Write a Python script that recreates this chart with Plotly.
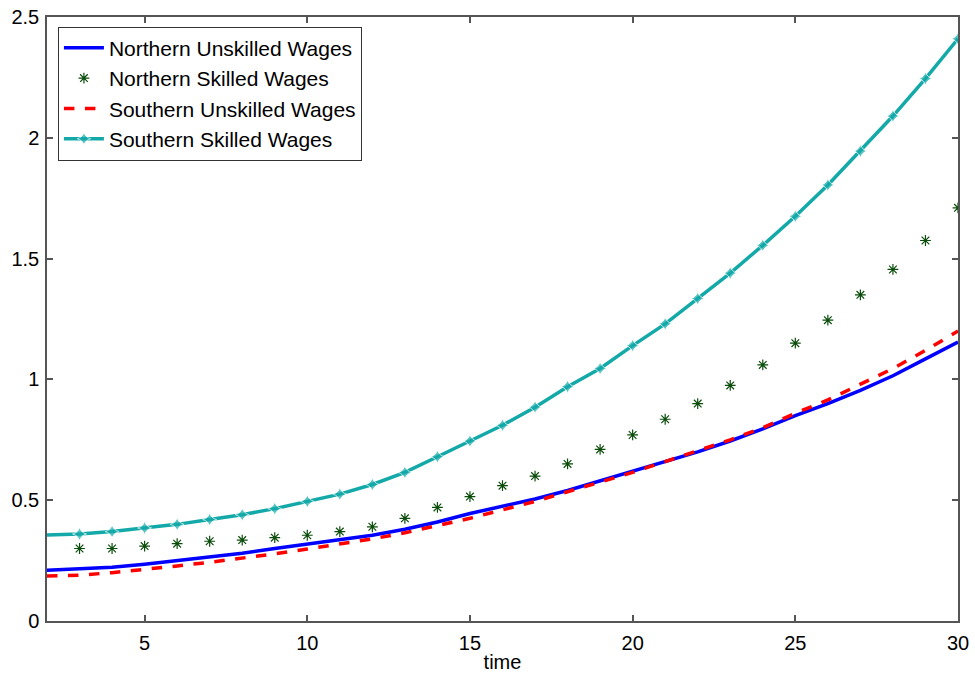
import plotly.graph_objects as go

time = list(range(2, 31))

northern_unskilled = [0.21, 0.215, 0.222, 0.235, 0.25, 0.265, 0.28, 0.30, 0.318, 0.335,
                      0.355, 0.38, 0.41, 0.445, 0.475, 0.505, 0.54, 0.58, 0.62, 0.66,
                      0.70, 0.745, 0.795, 0.85, 0.90, 0.955, 1.015, 1.085, 1.155]

northern_skilled_time = list(range(3, 31))
northern_skilled = [0.30, 0.30, 0.31, 0.32, 0.33, 0.335, 0.345, 0.355, 0.37, 0.39,
                    0.425, 0.47, 0.515, 0.56, 0.60, 0.65, 0.71, 0.77, 0.835, 0.90,
                    0.975, 1.06, 1.15, 1.245, 1.35, 1.455, 1.575, 1.71]

southern_unskilled = [0.186, 0.19, 0.20, 0.213, 0.228, 0.243, 0.26, 0.278, 0.298, 0.318,
                      0.34, 0.365, 0.395, 0.425, 0.46, 0.495, 0.535, 0.575, 0.615, 0.66,
                      0.705, 0.75, 0.80, 0.86, 0.915, 0.98, 1.045, 1.12, 1.20]

southern_skilled = [0.356, 0.36, 0.37, 0.385, 0.40, 0.42, 0.44, 0.465, 0.495, 0.525,
                    0.565, 0.615, 0.68, 0.745, 0.81, 0.885, 0.97, 1.045, 1.14, 1.23,
                    1.335, 1.44, 1.555, 1.675, 1.805, 1.945, 2.09, 2.245, 2.41]

font_family = "Liberation Sans, Arial, sans-serif"

fig = go.Figure()
fig.add_trace(go.Scatter(
    x=time, y=northern_unskilled, mode="lines", name="Northern Unskilled Wages",
    line=dict(color="#0000ff", width=3.5)))
fig.add_trace(go.Scatter(
    x=northern_skilled_time, y=northern_skilled, mode="markers", name="Northern Skilled Wages",
    marker=dict(symbol="asterisk-open", size=9, color="#0b4d0b",
                line=dict(color="#0b4d0b", width=1.2))))
fig.add_trace(go.Scatter(
    x=time, y=southern_unskilled, mode="lines", name="Southern Unskilled Wages",
    line=dict(color="#ff0000", width=3.5, dash="dash")))
fig.add_trace(go.Scatter(
    x=time, y=southern_skilled, mode="lines+markers", name="Southern Skilled Wages",
    line=dict(color="#14a9a9", width=3.5),
    marker=dict(symbol="star-diamond", size=[0] + [10] * (len(time) - 1), color="#14a9a9")))

axis_common = dict(
    showline=True, linecolor="#555555", linewidth=1.5, mirror="ticks",
    ticks="inside", ticklen=6, tickcolor="#555555", tickwidth=1.5,
    showgrid=False, zeroline=False, automargin=False,
    tickfont=dict(family=font_family, size=20, color="#000000"),
)

fig.update_layout(
    width=975, height=675,
    paper_bgcolor="white", plot_bgcolor="white",
    margin=dict(l=47, r=17, t=17, b=54),
    font=dict(family=font_family, color="#000000"),
    xaxis=dict(range=[2, 30], tickvals=[5, 10, 15, 20, 25, 30], ticklabelstandoff=3,
               title=dict(text="time", font=dict(family=font_family, size=20), standoff=2),
               **axis_common),
    yaxis=dict(range=[0, 2.5], tickvals=[0, 0.5, 1, 1.5, 2, 2.5], ticklabelstandoff=2,
               ticktext=["0", "0.5", "1", "1.5", "2", "2.5"], **axis_common),
    legend=dict(x=0.012, y=0.984, xanchor="left", yanchor="top",
                bgcolor="white", bordercolor="#333333", borderwidth=1,
                font=dict(family=font_family, size=21, color="#000000"),
                itemwidth=40, tracegroupgap=0),
    showlegend=True,
)

fig.write_html("out.html", config={"displayModeBar": False},
               post_script="document.body.style.margin='0';")
